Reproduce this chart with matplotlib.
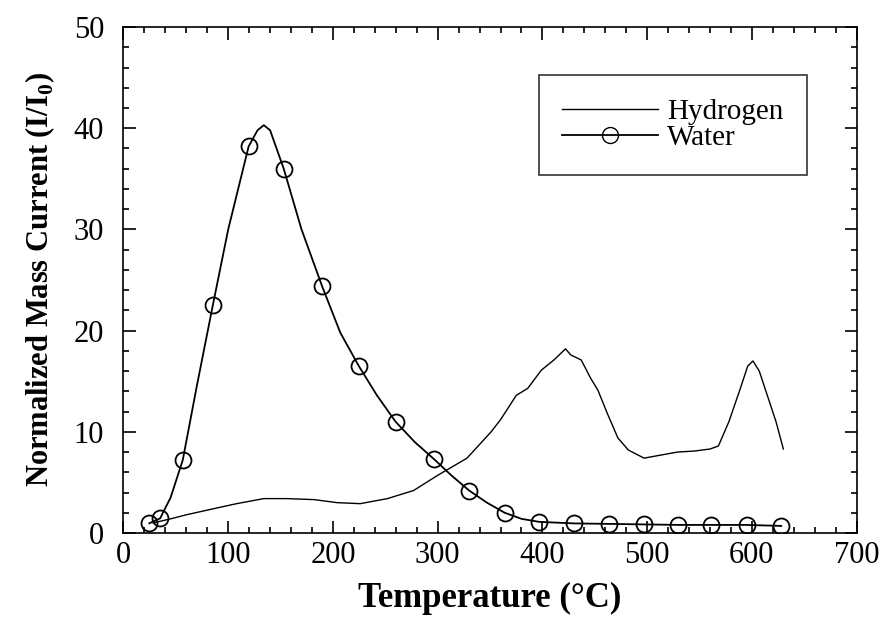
import matplotlib
matplotlib.use("Agg")
import matplotlib.pyplot as plt
from matplotlib.lines import Line2D
from matplotlib.ticker import MultipleLocator

plt.rcParams['font.family'] = ['Liberation Serif', 'DejaVu Serif']
plt.rcParams['mathtext.fontset'] = 'custom'
plt.rcParams['mathtext.rm'] = 'Liberation Serif'
plt.rcParams['mathtext.bf'] = 'Liberation Serif:bold'

# water signal (line)
water_T = [24.7, 35, 45, 56.6, 70, 85.3, 100, 119.5, 128, 134, 140, 153, 170, 189.6,
           207, 224.7, 242, 259.8, 278, 296.5, 313, 330, 347, 364, 380, 397, 430,
           464, 497, 531, 561, 595, 628]
water_I = [0.96, 1.45, 3.5, 7.2, 14.5, 22.5, 30, 38.2, 39.8, 40.3, 39.8, 36.0, 30, 24.4,
           19.8, 16.5, 13.6, 11.0, 9.0, 7.3, 5.7, 4.2, 3.0, 2.0, 1.4, 1.1, 0.95,
           0.9, 0.85, 0.8, 0.8, 0.8, 0.7]

# circle markers on the water curve
mark_T = [24.7, 35, 56.6, 85.3, 119.5, 153, 189.6, 224.7, 259.8, 296.5, 330, 364,
          397, 430, 464, 497, 529, 561, 595, 628]
mark_I = [0.96, 1.45, 7.2, 22.5, 38.2, 36.0, 24.4, 16.5, 11.0, 7.3, 4.2, 2.0,
          1.1, 0.95, 0.9, 0.85, 0.8, 0.8, 0.8, 0.7]

# hydrogen signal
h2_T = [28.5, 45, 60, 86, 108, 134, 156, 182, 204, 226, 252, 277, 300, 328, 351, 360,
        375, 386, 399, 411, 422, 427, 437, 446, 453, 462, 472, 482, 497, 513, 529,
        545, 560, 568, 578, 588, 596, 601, 607, 615, 623, 630]
h2_I = [1.0, 1.4, 1.8, 2.4, 2.9, 3.4, 3.4, 3.3, 3.0, 2.9, 3.4, 4.2, 5.7, 7.4, 10.0, 11.2,
        13.6, 14.3, 16.1, 17.1, 18.2, 17.6, 17.1, 15.3, 14.1, 11.8, 9.4, 8.2, 7.4, 7.7, 8.0,
        8.1, 8.3, 8.6, 11, 14, 16.5, 17, 16, 13.5, 11, 8.3]

fig = plt.figure(figsize=(8.85, 6.27), dpi=100)
ax = fig.add_axes([0.1395, 0.1499, 0.8285, 0.807])

ax.plot(h2_T, h2_I, color='black', lw=1.0)
ax.plot(water_T, water_I, color='black', lw=1.3)
ax.plot(mark_T, mark_I, linestyle='none', marker='o', markersize=11.5,
        markerfacecolor='none', markeredgecolor='black', markeredgewidth=1.3)

ax.set_xlim(0, 700)
ax.set_ylim(0, 50)
ax.xaxis.set_major_locator(MultipleLocator(100))
ax.xaxis.set_minor_locator(MultipleLocator(20))
ax.yaxis.set_major_locator(MultipleLocator(10))
ax.yaxis.set_minor_locator(MultipleLocator(2))
ax.tick_params(which='both', direction='in', top=True, right=True, width=1.2)
ax.tick_params(which='major', length=9, labelsize=22)
ax.tick_params(axis='y', which='major', pad=14)
ax.tick_params(axis='x', which='major', pad=6)
ax.tick_params(which='minor', length=4)
for s in ax.spines.values():
    s.set_linewidth(1.2)

ax.set_xlabel('Temperature (°C)', fontsize=25, fontweight='bold', labelpad=8)
ax.set_ylabel(r'Normalized Mass Current (I/I$_\mathbf{0}$)', fontsize=22,
              fontweight='bold', labelpad=12)

handles = [Line2D([], [], color='black', lw=1.0),
           Line2D([], [], color='black', lw=1.3, marker='o', markersize=11.5,
                  markerfacecolor='none', markeredgecolor='black')]
leg = ax.legend(handles, ['Hydrogen', 'Water'], loc='upper right',
                bbox_to_anchor=(0.932, 0.905), borderaxespad=0, fontsize=21,
                frameon=True, fancybox=False, edgecolor='black', handlelength=3.3,
                labelspacing=0.0, borderpad=0.8, handletextpad=0.3)
leg.get_frame().set_linewidth(1.2)

fig.savefig('out.png', dpi=100)
